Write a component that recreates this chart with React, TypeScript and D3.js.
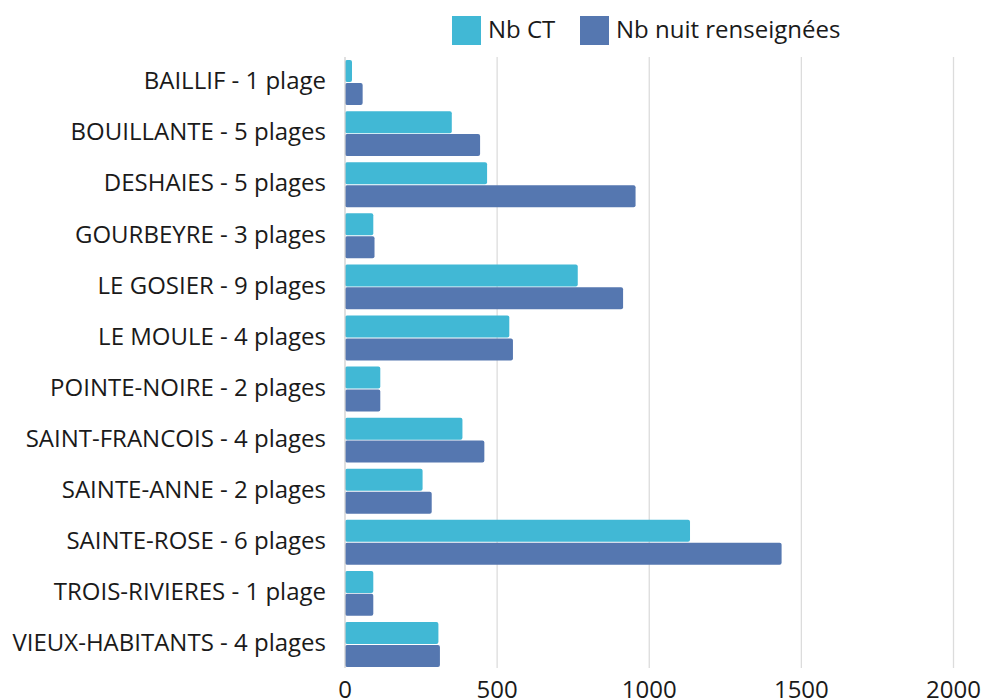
import React from "react";
import * as d3 from "d3";

const communes = [
  "BAILLIF - 1 plage",
  "BOUILLANTE - 5 plages",
  "DESHAIES - 5 plages",
  "GOURBEYRE - 3 plages",
  "LE GOSIER - 9 plages",
  "LE MOULE - 4 plages",
  "POINTE-NOIRE - 2 plages",
  "SAINT-FRANCOIS - 4 plages",
  "SAINTE-ANNE - 2 plages",
  "SAINTE-ROSE - 6 plages",
  "TROIS-RIVIERES - 1 plage",
  "VIEUX-HABITANTS - 4 plages",
];
const nbCT = [23, 351, 467, 93, 765, 540, 116, 386, 255, 1134, 93, 307];
const nbNuit = [58, 444, 955, 97, 914, 552, 116, 458, 285, 1435, 93, 312];
const xTicks = [0, 500, 1000, 1500, 2000];

const seriesNames = ["Nb CT", "Nb nuit renseignées"];
const colors = ["#41b8d5", "#5577b0"];

const W = 984;
const H = 700;
const FONT = "'Open Sans', 'Noto Sans', sans-serif";

export default function App() {
  const x = d3.scaleLinear().domain([0, 2000]).range([345, 953.5]);
  const y = d3.scaleBand<string>().domain(communes).range([57, 670]).paddingInner(0.12).paddingOuter(0.06);
  const sub = d3.scaleBand<number>().domain([0, 1]).range([0, y.bandwidth()]).paddingInner(0.04);
  const series = [nbCT, nbNuit];
  const plotTop = 57;
  const plotBottom = 668;

  return (
    <svg width={W} height={H} style={{ position: "absolute", left: 0, top: 0, background: "#fff" }} fontFamily={FONT}>
      {/* grille */}
      {xTicks.slice(1).map(t => (
        <line key={t} x1={x(t)} x2={x(t)} y1={plotTop} y2={plotBottom} stroke="#dcdcdc" strokeWidth={1.3} />
      ))}

      {/* barres */}
      {communes.map((c, i) => (
        <g key={c} transform={`translate(0,${y(c)})`}>
          {series.map((s, k) => (
            <rect
              key={k}
              x={x(0)}
              y={sub(k)}
              width={x(s[i]) - x(0)}
              height={sub.bandwidth()}
              rx={2}
              fill={colors[k]}
            />
          ))}
        </g>
      ))}

      {/* axe zéro */}
      <line x1={x(0)} x2={x(0)} y1={plotTop} y2={plotBottom} stroke="#cfcfcf" strokeWidth={1.3} />

      {/* libellés */}
      {communes.map(c => (
        <text key={c} x={326} y={(y(c) ?? 0) + y.bandwidth() / 2} dy="0.28em" textAnchor="end" fontSize={24} fill="#1a1a1a">
          {c}
        </text>
      ))}

      {xTicks.map(t => (
        <text key={t} x={x(t)} y={698} textAnchor="middle" fontSize={24} fill="#1a1a1a">
          {t}
        </text>
      ))}

      {/* légende */}
      {seriesNames.map((n, k) => {
        const lx = [452, 580][k];
        return (
          <g key={n}>
            <rect x={lx} y={16} width={29} height={29} fill={colors[k]} />
            <text x={lx + 36} y={30} dy="0.35em" fontSize={24} fill="#1a1a1a">
              {n}
            </text>
          </g>
        );
      })}
    </svg>
  );
}
